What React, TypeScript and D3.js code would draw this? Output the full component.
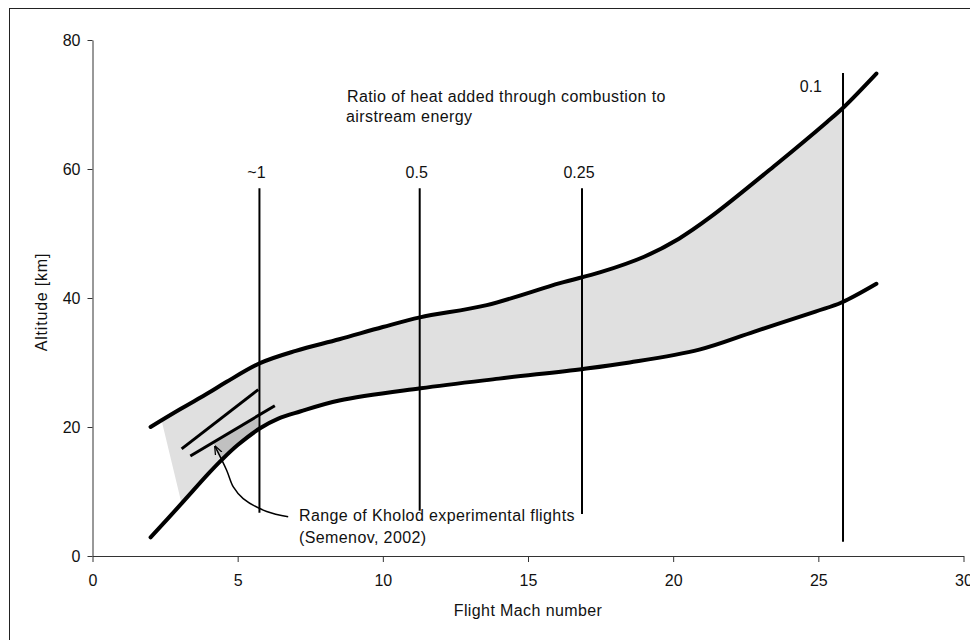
import React, { useEffect, useRef } from 'react';
import * as d3 from 'd3';

// envelope of the flight corridor (Mach, altitude km)
const upperBound: [number, number][] = [
  [2, 20], [3, 22.7], [4, 25.3], [4.62, 27], [5.77, 29.9], [7, 31.8], [8.5, 33.6],
  [10, 35.5], [11.28, 37], [13.58, 38.9], [16.1, 42.3], [17.5, 44], [19, 46.4],
  [20.2, 49.2], [21.3, 52.6], [23.6, 60.9], [25.3, 67.3], [25.9, 69.7], [27, 74.8],
];
const lowerBound: [number, number][] = [
  [2, 2.9], [3, 7.8], [4, 12.8], [4.45, 14.9], [5, 17.2], [5.77, 19.8], [6.4, 21.3],
  [7.15, 22.4], [8.5, 24.1], [11.3, 26], [14, 27.5], [16.9, 29], [18.5, 30],
  [20.9, 32], [22.8, 34.8], [24.9, 37.9], [25.8, 39.3], [27, 42.2],
];
// slanted left edge of the shaded band
const bandEdge: [number, number][] = [[2.38, 21.0], [3.07, 8.1]];

// Kholod flights
const kholodLines: [number, number][][] = [
  [[3.07, 16.6], [5.71, 25.8]],
  [[3.37, 15.5], [6.28, 23.3]],
];
const kholodRange: [number, number][] = [[4.16, 17.6], [5.71, 21.75], [5.71, 19.7], [4.45, 14.9]];
const arrowPath: [number, number][] = [[6.74, 6.1], [6.0, 6.9], [5.19, 8.9], [4.85, 10.7], [4.62, 13.3], [4.22, 17.0]];

// ratio of heat added through combustion to airstream energy
const ratioLabels = ['~1', '0.5', '0.25', '0.1'];
const ratioMach = [5.75, 11.27, 16.86, 25.85];
const ratioTop = [57, 57, 57, 74.9];
const ratioBottom = [6.7, 7.0, 6.5, 2.2];

const xTicks = [0, 5, 10, 15, 20, 25, 30];
const yTicks = [0, 20, 40, 60, 80];

const FONT = '"Liberation Sans", Arial, sans-serif';

function App() {
  const ref = useRef<SVGSVGElement>(null);

  useEffect(() => {
    const svg = d3.select(ref.current);
    svg.selectAll('*').remove();

    const x = d3.scaleLinear().domain([0, 30]).range([92.5, 963.5]);
    const y = d3.scaleLinear().domain([0, 80]).range([556, 40]);

    const line = d3.line<[number, number]>()
      .x(d => x(d[0]))
      .y(d => y(d[1]))
      .curve(d3.curveCatmullRom.alpha(0.5));
    const straight = d3.line<[number, number]>().x(d => x(d[0])).y(d => y(d[1]));

    // frame
    svg.append('rect')
      .attr('x', 9.5).attr('y', 8.5).attr('width', 990).attr('height', 700)
      .attr('fill', 'white').attr('stroke', '#222');

    const defs = svg.append('defs');
    const clip: [number, number][] = [
      [bandEdge[0][0], 80], bandEdge[0], bandEdge[1], [bandEdge[1][0], 0],
      [ratioMach[3], 0], [ratioMach[3], 80],
    ];
    defs.append('clipPath').attr('id', 'bandClip')
      .append('path').attr('d', straight(clip) + 'Z');
    defs.append('marker')
      .attr('id', 'arrowHead')
      .attr('viewBox', '0 0 10 10')
      .attr('refX', 9).attr('refY', 5)
      .attr('markerWidth', 9).attr('markerHeight', 9)
      .attr('markerUnits', 'userSpaceOnUse')
      .attr('orient', 'auto')
      .append('path').attr('d', 'M0,1 L10,5 L0,9').attr('fill', 'none')
      .attr('stroke', '#000').attr('stroke-width', 1.4);

    // shaded band
    const bandD = line(upperBound) + (line(lowerBound.slice().reverse()) as string).replace('M', 'L') + 'Z';
    svg.append('path').attr('d', bandD).attr('fill', '#e0e0e0').attr('clip-path', 'url(#bandClip)');
    svg.append('path').attr('d', straight(kholodRange) + 'Z').attr('fill', '#c0c0c0');

    // axes
    const xAxis = svg.append('g')
      .attr('transform', `translate(0,${y(0)})`)
      .call(d3.axisBottom(x).tickValues(xTicks).tickSize(6).tickSizeOuter(0).tickPadding(13));
    const yAxis = svg.append('g')
      .attr('transform', `translate(${x(0)},0)`)
      .call(d3.axisLeft(y).tickValues(yTicks).tickSize(5).tickSizeOuter(0).tickPadding(7));
    [xAxis, yAxis].forEach(g => {
      g.attr('font-family', FONT).attr('font-size', 16);
      g.selectAll('path, line').attr('stroke', '#333');
      g.selectAll('text').attr('fill', '#111');
    });

    // ratio lines
    ratioMach.forEach((m, i) => {
      svg.append('line')
        .attr('x1', x(m)).attr('x2', x(m))
        .attr('y1', y(ratioTop[i])).attr('y2', y(ratioBottom[i]))
        .attr('stroke', '#000').attr('stroke-width', 2);
      const last = i === ratioMach.length - 1;
      svg.append('text')
        .attr('x', last ? x(m) - 21 : x(m) - 3)
        .attr('y', last ? y(ratioTop[i]) + 19 : y(ratioTop[i]) - 10)
        .attr('text-anchor', last ? 'end' : 'middle')
        .attr('font-family', FONT).attr('font-size', 16).attr('fill', '#111')
        .text(ratioLabels[i]);
    });

    // corridor curves
    [upperBound, lowerBound].forEach(c => {
      svg.append('path').attr('d', line(c)).attr('fill', 'none')
        .attr('stroke', '#000').attr('stroke-width', 4).attr('stroke-linecap', 'round');
    });
    kholodLines.forEach(l => {
      svg.append('path').attr('d', straight(l)).attr('fill', 'none')
        .attr('stroke', '#000').attr('stroke-width', 3);
    });
    svg.append('path').attr('d', line(arrowPath)).attr('fill', 'none')
      .attr('stroke', '#000').attr('stroke-width', 1.5)
      .attr('marker-end', 'url(#arrowHead)');

    // texts
    const txt = (t: string, tx: number, ty: number, anchor = 'start') =>
      svg.append('text').attr('x', tx).attr('y', ty).attr('text-anchor', anchor)
        .attr('font-family', FONT).attr('font-size', 16).attr('letter-spacing', 0.4)
        .attr('fill', '#111').text(t);

    txt('Ratio of heat added through combustion to', 347, 102);
    txt('airstream energy', 346, 122);
    txt('Range of Kholod experimental flights', 299, 521);
    txt('(Semenov, 2002)', 299, 543);
    txt('Flight Mach number', x(15), 616, 'middle');
    svg.append('text')
      .attr('transform', `translate(47,${y(40) + 4}) rotate(-90)`)
      .attr('text-anchor', 'middle')
      .attr('font-family', FONT).attr('font-size', 16).attr('letter-spacing', 0.8)
      .attr('fill', '#111')
      .text('Altitude [km]');
  }, []);

  return (
    <svg ref={ref} width={970} height={640}
      style={{ position: 'absolute', left: 0, top: 0, background: 'white' }} />
  );
}

export default App;
